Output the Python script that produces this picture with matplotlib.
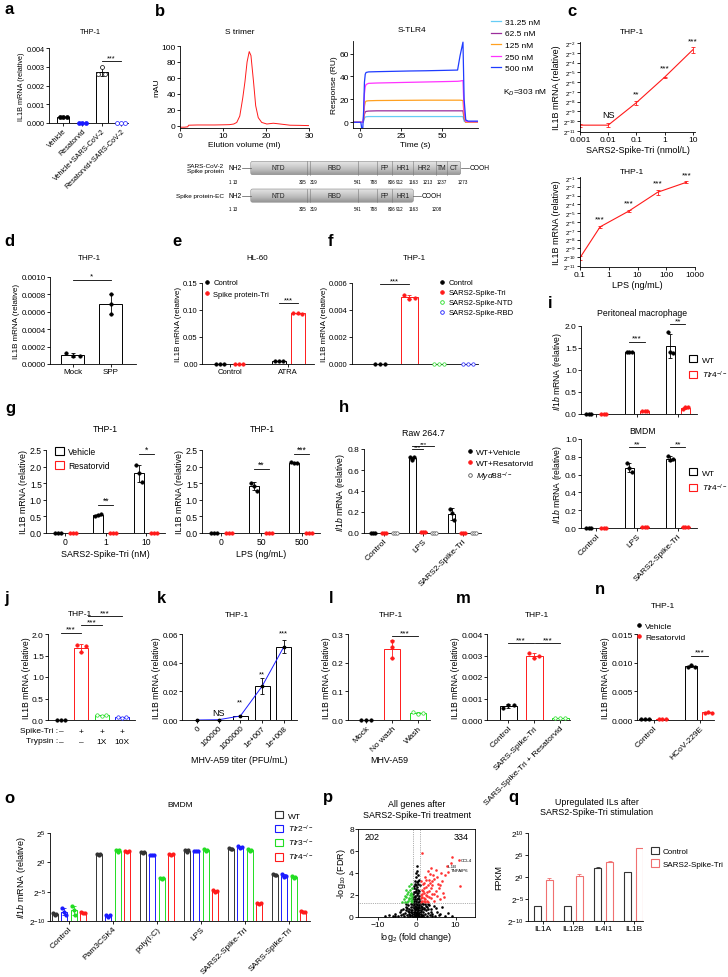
import numpy as np
import matplotlib
matplotlib.use("Agg")
import matplotlib.pyplot as plt
from matplotlib.patches import Patch, FancyBboxPatch
from matplotlib.lines import Line2D
from matplotlib.ticker import FixedLocator, NullLocator

plt.rcParams['font.family'] = ['Liberation Sans', 'DejaVu Sans']
plt.rcParams['mathtext.fontset'] = 'custom'
plt.rcParams['mathtext.rm'] = 'Liberation Sans'
plt.rcParams['mathtext.it'] = 'Liberation Sans:italic'
plt.rcParams['mathtext.bf'] = 'Liberation Sans:bold'
plt.rcParams['font.size'] = 6
plt.rcParams['axes.linewidth'] = 0.6

# ---------------- data ----------------
# a
a_labels = ['Vehicle', 'Resatorvid', 'Vehicle+SARS-CoV-2', 'Resatorvid+SARS-CoV-2']
a_pts = [[0.00030, 0.00034, 0.00032], [0.00002, 0.00002, 0.00002],
         [0.00262, 0.00300, 0.00262], [0.00002, 0.00002, 0.00002]]
# b: size exclusion
b_vol = [0, 1, 1.8, 2, 4, 8, 10, 11.5, 12.5, 13.2, 13.9, 14.3, 14.6, 15.1, 15.6,
         16.1, 16.5, 17.1, 17.6, 18.2, 19.0, 20.2, 21.7, 23.3, 25.6, 28, 30]
b_mau = [-2, -2, -1.5, 0.5, 0.8, 0.8, 1, 1.2, 2, 4, 12, 25, 35, 55, 80,
         93, 88, 55, 25, 10, 4, 2, 3, 2, 0.5, 0.3, 0]
# b: SPR sensorgram
spr_t = [-4, 0.3, 0.8, 1.5, 2.0, 2.5, 3.0, 3.5, 5, 10, 20, 30, 40, 50, 59.5, 61, 62.8, 63.5, 64.5, 66, 72]
spr_conc = ['31.25 nM', '62.5 nM', '125 nM', '250 nM', '500 nM']
spr_31 = [0, 0, 0, 0, 1, 3.5, 4.5, 4.8, 5, 5, 5, 5, 5, 5, 5, 5, 5, 1, 0, 0, 0]
spr_62 = [0, 0, 0, 0, 2, 7, 9, 9.5, 9.8, 10, 10, 10, 10, 10, 10, 10, 10, 3, 0, 0, 0]
spr_125 = [0, 0, 0, 0, 3, 14, 17.5, 18.5, 18.8, 19, 19.1, 19.2, 19.3, 19.3, 19.3, 19.3, 19, 5, 0, 0, 0]
spr_250 = [0, 0, 0, 0, 5, 25, 31, 33, 34, 34.3, 34.6, 34.9, 35.2, 35.5, 35.8, 36, 36.5, 10, 1, 0.5, 0.5]
spr_500 = [0, 0, -5, -5, 10, 35, 42, 43.5, 44, 44.2, 44.5, 44.8, 45, 45.3, 45.6, 58, 70, 20, 2, 1, 1]
# b: domain schematic (schematic units along the drawing)
dom_edges = [250.7, 306.7, 310, 358.3, 377.3, 392.3, 413.3, 435.7, 446.7, 460.7]
dom_names = ['NTD', '', 'RBD', '', 'FP', 'HR1', 'HR2', 'TM', 'CT']
res_full = ['1', '13', '305', '319', '541', '788', '806', '912', '1163', '1213', '1237', '1273']
res_full_pos = [230, 235, 302.7, 313.3, 357.7, 373.3, 392, 400, 414, 428, 441.7, 462.7]
res_ec = ['1', '13', '305', '319', '541', '788', '806', '912', '1163', '1208']
res_ec_pos = [230, 235, 302.7, 313.3, 357.7, 373.3, 392, 400, 414, 436.7]
# c
c1_x = [0.001, 0.01, 0.1, 1, 10]
c1_exp = [-10.4, -10.4, -8.1, -5.5, -2.7]
c1_lo = [-10.55, -10.6, -8.35, -5.56, -3.0]
c1_hi = [-10.25, -10.2, -7.9, -5.45, -2.45]
c1_sig = ['', 'NS', '**', '***', '***']
c1_sig_y = [0, -9.3, -7.2, -4.55, -1.75]
c2_x = [0.1, 0.5, 5, 50, 500]
c2_exp = [-10.05, -6.55, -4.76, -2.63, -1.5]
c2_lo = [-10.25, -6.65, -4.9, -2.9, -1.62]
c2_hi = [-9.85, -6.45, -4.62, -2.4, -1.38]
c2_sig = ['', '***', '***', '***', '***']
c2_sig_y = [0, -5.6, -3.85, -1.6, -0.62]
# d
d_labels = ['Mock', 'SPP']
d_pts = [[0.00013, 0.00009, 0.00009], [0.00080, 0.00069, 0.00058]]
# e
e_labels = ['Control', 'ATRA']
e_ctrl = [[0, 0, 0], [0.005, 0.006, 0.005]]
e_spike = [[0, 0, 0], [0.094, 0.095, 0.093]]
# f
f_names = ['Control', 'SARS2-Spike-Tri', 'SARS2-Spike-NTD', 'SARS2-Spike-RBD']
f_pts = [[0, 0, 0], [0.0051, 0.0048, 0.0049], [0.00002, 0.00002, 0.00002], [0.00002, 0.00002, 0.00002]]
# g
g1_labels = ['0', '1', '10']
g1_veh = [[0, 0, 0], [0.50, 0.55, 0.56], [2.05, 1.80, 1.55]]
g1_res = [[0, 0, 0], [0, 0, 0], [0, 0, 0]]
g2_labels = ['0', '50', '500']
g2_veh = [[0, 0, 0], [1.52, 1.42, 1.28], [2.15, 2.12, 2.10]]
g2_res = [[0, 0, 0], [0, 0, 0], [0, 0, 0]]
# h
h_labels = ['Control', 'LPS', 'SARS2-Spike-Tri']
h_veh = [[0, 0, 0], [0.72, 0.70, 0.72], [0.23, 0.19, 0.12]]
h_res = [[0, 0, 0], [0.01, 0.01, 0.01], [0, 0, 0]]
h_myd = [[0, 0, 0], [0, 0, 0], [0, 0, 0]]
# i
i_labels = ['Control', 'LPS', 'SARS2-Spike-Tri']
i1_wt = [[0, 0, 0], [1.40, 1.42, 1.41], [1.87, 1.40, 1.38]]
i1_ko = [[0, 0, 0], [0.07, 0.07, 0.07], [0.11, 0.15, 0.16]]
i2_wt = [[0, 0, 0], [0.73, 0.67, 0.63], [0.81, 0.76, 0.77]]
i2_ko = [[0, 0, 0], [0.01, 0.01, 0.01], [0.01, 0.01, 0.01]]
# j
j_pts = [[0, 0, 0], [1.75, 1.58, 1.72], [0.12, 0.10, 0.11], [0.07, 0.05, 0.06]]
j_spike = ['\u2013', '+', '+', '+']
j_tryp = ['\u2013', '\u2013', '1X', '10X']
# k
k_labels = ['0', '100000', '1000000', '1e+007', '1e+008']
k_mean = [0, 0.0002, 0.0028, 0.0235, 0.051]
k_err = [0, 0.0001, 0.0003, 0.0055, 0.0045]
k_sig = ['', 'NS', '**', '**', '***']
k_sig_y = [0, 0.0054, 0.0125, 0.0322, 0.0605]
# l
l_labels = ['Mock', 'No wash', 'Wash']
l_pts = [[0.0, 0.0, 0.0], [0.275, 0.255, 0.215], [0.027, 0.022, 0.025]]
# m
m_labels = ['Control', 'SARS-Spike-Tri', 'SARS-Spike-Tri + Resatorvid']
m_pts = [[0.00055, 0.00070, 0.00071], [0.0031, 0.0029, 0.0030], [0.00008, 0.00008, 0.00008]]
# n
n_labels = ['Control', 'HCoV-229E']
n_veh = [[0.0002, 0.0002, 0.0002], [0.0092, 0.0096, 0.0093]]
n_res = [[0.0001, 0.0001, 0.0001], [0.0013, 0.0014, 0.0013]]
# o (log2 values)
o_labels = ['Control', 'Pam3CSK4', 'poly(I:C)', 'LPS', 'SARS2-Spike-Tri', 'SARS-Spike-Tri']
o_wt = [[-8.6, -9.0, -8.8], [1.5, 1.2, 1.5], [1.8, 1.6, 1.7], [2.1, 1.8, 2.1], [2.4, 2.2, 2.3], [-2.0, -2.2, -2.1]]
o_tlr2 = [[-7.8, -8.4, -9.0], [-9.0, -9.3, -9.0], [1.3, 1.2, 1.25], [2.0, 2.0, 2.0], [2.7, 2.5, 2.6], [-2.0, -2.5, -2.4]]
o_tlr3 = [[-7.4, -8.2, -9.0], [2.1, 1.8, 2.1], [-2.6, -2.8, -2.7], [2.2, 2.0, 2.1], [2.2, 2.0, 2.1], [-2.4, -2.6, -2.5]]
o_tlr4 = [[-8.5, -8.6, -8.7], [2.0, 1.8, 1.9], [1.5, 1.3, 1.4], [-4.8, -5.0, -4.9], [-6.9, -7.1, -7.0], [-8.3, -8.5, -8.4]]
# p volcano (log2 FC, -log10 FDR)
p_black = [(-8.2, 0.05), (-7.0, 0.15), (-6.1, 0.08), (-5.4, 0.3), (-4.8, 0.12), (-4.3, 0.45), (-3.9, 0.2),
           (-3.5, 0.7), (-3.2, 0.05), (-3.0, 0.35), (-2.7, 0.9), (-2.5, 0.15), (-2.3, 0.55), (-2.1, 1.1),
           (-1.9, 0.3), (-1.8, 0.75), (-1.6, 0.05), (-1.5, 1.2), (-1.4, 0.45), (-1.3, 0.9), (-1.2, 0.2),
           (-1.1, 0.65), (-1.0, 1.05), (-0.9, 0.35), (-0.9, 1.6), (-0.8, 0.1), (-0.8, 2.1), (-0.7, 0.8),
           (-0.7, 1.3), (-0.6, 0.5), (-0.6, 2.6), (-0.5, 0.2), (-0.5, 1.8), (-0.4, 1.0), (-0.4, 3.0),
           (-0.3, 0.6), (-0.3, 2.3), (-0.2, 0.05), (-0.2, 1.5), (-0.1, 0.35), (-0.1, 3.6), (0.0, 0.8),
           (0.0, 2.0), (0.1, 0.15), (0.1, 1.2), (0.1, 4.2), (0.2, 0.5), (0.2, 2.7), (0.3, 0.95), (0.3, 1.7),
           (0.4, 0.25), (0.4, 3.3), (0.5, 0.65), (0.5, 2.2), (0.6, 1.35), (0.6, 0.05), (0.7, 0.4), (0.7, 1.9),
           (0.8, 0.85), (0.8, 2.9), (0.9, 0.2), (0.9, 1.5), (1.0, 0.6), (1.1, 1.0), (1.2, 0.3), (1.3, 0.75),
           (1.5, 0.1), (1.6, 1.15), (1.7, 0.5), (1.9, 0.85), (2.1, 0.25), (2.3, 1.2), (2.4, 0.6), (2.6, 0.05),
           (2.8, 0.95), (3.0, 0.4), (3.3, 1.1), (3.5, 0.15), (3.8, 0.7), (4.1, 0.3), (4.4, 1.0), (4.8, 0.1),
           (5.2, 0.5), (5.8, 0.2), (6.5, 0.9), (7.2, 0.1), (8.0, 0.4), (9.0, 0.05), (-2.2, 0.0), (-1.0, 0.0),
           (0.3, 0.0), (1.2, 0.0), (2.0, 0.0), (-0.45, 0.45), (0.25, 0.3), (-0.15, 0.9), (0.55, 1.1),
           (-0.65, 1.45), (0.15, 1.6), (-0.25, 2.4), (0.45, 2.5), (-0.05, 2.9), (0.35, 3.8),
           (-1.7, 0.15), (-1.35, 0.6), (-0.95, 0.9), (-0.75, 0.25), (-0.55, 1.15), (-0.35, 0.1), (-0.2, 0.7),
           (0.05, 0.45), (0.2, 1.05), (0.35, 0.6), (0.5, 0.15), (0.65, 0.95), (0.85, 0.45), (1.05, 0.2),
           (1.25, 0.55), (1.45, 0.9), (1.75, 0.2), (2.0, 0.7), (-2.0, 0.5), (-2.5, 0.8), (-1.1, 0.4),
           (-0.5, 0.7), (0.0, 0.25), (0.45, 0.85), (0.95, 1.2), (-0.85, 1.8), (0.75, 1.6), (-0.35, 1.95),
           (0.25, 2.15), (-0.6, 2.3), (0.6, 2.4), (0.05, 3.2), (-0.3, 3.3), (0.5, 3.0), (-0.15, 4.0),
           (0.2, 4.6), (2.5, 1.0), (3.0, 0.75), (3.6, 0.45), (-3.5, 0.25), (-2.8, 0.6), (-4.0, 0.6),
           (5.0, 0.8), (4.0, 0.05), (6.0, 0.3), (-5.5, 0.05), (-1.25, 1.25), (-0.15, 1.25), (0.4, 1.4),
           (-0.45, 1.6), (1.4, 1.25), (2.9, 1.2), (-2.6, 1.2), (-0.75, 2.8), (0.7, 3.4), (-0.1, 2.55)]
p_red = [(1.2, 1.4), (1.5, 1.8), (1.8, 1.45), (2.0, 2.2), (2.3, 1.6), (2.5, 2.7), (2.7, 1.9), (3.0, 1.4),
         (3.2, 2.4), (3.4, 3.1), (3.6, 1.7), (3.9, 2.1), (4.1, 2.9), (4.4, 1.5), (4.6, 3.5), (4.9, 2.4),
         (5.2, 1.9), (5.5, 3.0), (5.8, 2.6), (6.2, 4.0), (6.5, 3.3), (6.9, 2.2), (7.3, 3.8), (7.8, 4.6),
         (8.2, 4.1), (8.8, 4.9), (9.2, 5.5), (10.8, 5.2), (11.1, 2.8), (1.3, 2.5), (1.6, 3.0), (2.1, 3.6),
         (2.9, 4.2), (1.1, 1.7), (1.4, 2.1), (2.6, 1.5), (3.8, 4.5), (5.0, 4.3), (1.3, 5.8), (6.0, 1.6),
         (7.0, 1.8), (2.2, 1.35), (1.7, 2.4), (4.3, 3.8), (3.1, 3.4), (1.15, 2.0), (1.45, 1.5), (1.9, 2.6),
         (2.4, 2.0), (2.8, 2.3), (3.3, 1.8), (3.7, 2.6), (4.5, 2.1), (2.0, 3.1), (2.5, 3.4), (3.5, 3.9),
         (1.2, 3.3), (1.8, 1.7), (2.9, 2.9), (4.0, 3.3), (5.3, 3.6), (6.1, 2.9)]
p_green = [(-1.1, 1.4), (-1.3, 1.7), (-1.5, 1.45), (-1.7, 2.0), (-1.9, 1.6), (-2.1, 2.3), (-2.3, 1.5),
           (-2.6, 1.8), (-2.9, 1.4), (-3.3, 1.6), (-1.2, 2.6), (-1.5, 2.2), (-1.8, 2.8), (-2.4, 2.1),
           (-3.8, 1.35), (-1.05, 1.9), (-1.4, 3.0), (-2.8, 2.5), (-1.2, 1.55), (-1.6, 2.5), (-2.0, 1.7),
           (-2.5, 1.4), (-1.35, 2.05), (-3.0, 1.9)]
p_genes = ['CCL4', 'IL1B', 'TNFAIP6']
p_gene_xy = [(11.3, 5.2), (8.0, 4.6), (8.9, 4.3)]
# q (log2 FPKM)
q_genes = ['IL1A', 'IL12B', 'IL4I1', 'IL1B']
q_ctrl = [-6.6, -6.6, 2.0, 1.1]
q_ctrl_err = [0, 0, 0.2, 0.1]
q_spk = [-0.7, 0.3, 3.5, 6.6]
q_spk_err = [0.4, 0.35, 0.1, 0.05]

# ---------------- helpers ----------------
W, H = 728, 978
fig = plt.figure(figsize=(W / 100, H / 100), dpi=100)
RED = '#ff1a1a'; BLUE = '#1a1aff'; GREEN = '#22dd22'


def box(x0, y0, x1, y1):
    return fig.add_axes([x0 / W, 1 - y1 / H, (x1 - x0) / W, (y1 - y0) / H])


def ftxt(x, y, s, **kw):
    kw.setdefault('ha', 'center'); kw.setdefault('va', 'center')
    fig.text(x / W, 1 - y / H, s, **kw)


def letter(x, y, s):
    ftxt(x, y, s, fontsize=12, fontweight='bold')


def style(ax, fs=6):
    for s in ['top', 'right']:
        ax.spines[s].set_visible(False)
    ax.tick_params(length=2, width=0.6, labelsize=fs, pad=1)


def dots_bar(ax, x, pts, color, width, filled=True, col=False, ms=6):
    pts = np.asarray(pts, float)
    m = pts.mean(); sd = pts.std(ddof=1)
    ax.bar(x, m, width, facecolor='white', edgecolor=color, linewidth=0.7, zorder=1)
    ax.errorbar(x, m, yerr=sd, fmt='none', ecolor=color, elinewidth=0.6, capsize=1.5,
                capthick=0.6, zorder=2)
    offs = np.zeros(3) if col else np.array([-0.3, 0, 0.3]) * width
    ax.scatter(x + offs, pts, s=ms, facecolor=color if filled else 'white', edgecolor=color,
               linewidth=0.5, zorder=3, clip_on=False)


def sig(ax, x1, x2, y, s, fs=6):
    ax.plot([x1, x2], [y, y], color='black', lw=0.6, clip_on=False)
    ax.text((x1 + x2) / 2, y, s, ha='center', va='bottom', fontsize=fs, clip_on=False)


def legend_at(ax, handles, labels, x, y, fs=6, **kw):
    kw.setdefault('handletextpad', 0.5)
    ax.legend(handles, labels, loc='upper left', bbox_to_anchor=(x / W, 1 - y / H),
              bbox_transform=fig.transFigure, frameon=False, fontsize=fs, borderpad=0,
              borderaxespad=0, **kw)


def sq(c):
    return Patch(facecolor='white', edgecolor=c, linewidth=0.8)


def dot(c, filled=True):
    return Line2D([0], [0], marker='o', ls='none', markersize=2.6, markerfacecolor=c if filled else 'white',
                  markeredgecolor=c, markeredgewidth=0.6)


def rot_labels(ax, labels, fs):
    ax.set_xticklabels(labels, rotation=45, ha='right', rotation_mode='anchor', fontsize=fs)


def log2_axis(ax, lo, hi, fs):
    ax.set_yscale('log', base=2)
    ax.yaxis.set_major_locator(FixedLocator([2.0 ** k for k in range(lo, hi + 1)]))
    ax.yaxis.set_minor_locator(NullLocator())
    ax.set_yticklabels(['2$^{%d}$' % k for k in range(lo, hi + 1)], fontsize=fs)


# ---------------- a ----------------
letter(9, 10, 'a')
ftxt(90, 33, 'THP-1', fontsize=5.2)
ax = box(49, 49, 128, 124); style(ax, 5.2)
a_cols = ['black', BLUE, 'black', BLUE]
a_fill = [True, True, False, False]
for i in range(4):
    dots_bar(ax, i, a_pts[i], a_cols[i], 0.62, a_fill[i], ms=8)
ax.set_xlim(-0.73, 3.36); ax.set_ylim(0, 0.004)
ax.set_yticks([0, 0.001, 0.002, 0.003, 0.004])
ax.set_xticks(range(4)); rot_labels(ax, a_labels, 5.2)
ax.set_ylabel('IL1B mRNA (relative)', fontsize=5.2, labelpad=1)
sig(ax, 2, 3, 0.0033, '***', 5.2)

# ---------------- b ----------------
letter(160, 11, 'b')
ftxt(240, 33, 'S trimer', fontsize=6)
ax = box(180, 47, 309, 129); style(ax, 6)
ax.plot(b_vol, b_mau, color=RED, lw=0.7)
ax.set_xlim(0, 30); ax.set_ylim(-3, 100)
ax.set_xticks([0, 10, 20, 30]); ax.set_yticks([0, 20, 40, 60, 80, 100])
ax.set_xlabel('Elution volume (ml)', fontsize=6, labelpad=1)
ax.set_ylabel('mAU', fontsize=6, labelpad=1)

ftxt(412, 31, 'S-TLR4', fontsize=6)
ax = box(353, 42, 478, 129); style(ax, 6)
spr_cols = ['#66ccf5', '#9b2d9b', '#ffa020', '#ff33ff', '#1f3cff']
for ys, c, lab in zip([spr_31, spr_62, spr_125, spr_250, spr_500], spr_cols, spr_conc):
    ax.plot(spr_t, ys, color=c, lw=0.9, label=lab)
ax.set_xlim(-4.5, 72); ax.set_ylim(-5, 71)
ax.set_xticks([0, 25, 50]); ax.set_yticks([0, 20, 40, 60])
ax.set_xlabel('Time (s)', fontsize=6, labelpad=1)
ax.set_ylabel('Response (RU)', fontsize=6, labelpad=1)
h_, l_ = ax.get_legend_handles_labels()
legend_at(ax, h_, l_, 491, 19, 6, handlelength=1.2, labelspacing=0.45)
ftxt(503, 93, 'K$_D$=303 nM', fontsize=6, ha='left')

# domain schematic
dg = box(150, 150, 520, 215)
dg.set_xlim(150, 520); dg.set_ylim(215, 150); dg.axis('off')
grad = np.linspace(0.18, 0.5, 40).reshape(-1, 1)
for (y0, y1, nseg, lab, res, rpos) in [(162.3, 175.7, 9, 'SARS-CoV-2\nSpike protein', res_full, res_full_pos),
                                       (190, 203.3, 6, 'Spike protein-EC', res_ec, res_ec_pos)]:
    x0, x1 = dom_edges[0], dom_edges[nseg]
    patch = FancyBboxPatch((x0, y0), x1 - x0, y1 - y0, boxstyle='round,pad=0,rounding_size=2',
                           facecolor='none', edgecolor='#888888', lw=0.4)
    dg.add_patch(patch)
    im = dg.imshow(grad, extent=(x0, x1, y1, y0), cmap='Greys', vmin=0, vmax=1, aspect='auto', zorder=0)
    im.set_clip_path(patch)
    for e in dom_edges[1:nseg]:
        dg.plot([e, e], [y0, y1], color='#777777', lw=0.4)
    for k in range(nseg):
        if dom_names[k]:
            dg.text((dom_edges[k] + dom_edges[k + 1]) / 2, (y0 + y1) / 2, dom_names[k], fontsize=4.8,
                    ha='center', va='center', color='#222222')
    ym = (y0 + y1) / 2
    dg.text(229, ym, 'NH2', fontsize=4.8, ha='left', va='center')
    dg.plot([242, x0], [ym, ym], color='#555555', lw=0.5)
    dg.plot([x1, x1 + 8], [ym, ym], color='#555555', lw=0.5)
    dg.text(x1 + 8.5, ym, 'COOH', fontsize=4.8, ha='left', va='center')
    dg.text(224, ym, lab, fontsize=4.6, ha='right', va='center', linespacing=1.2)
    for r, p in zip(res, rpos):
        dg.text(p, y1 + 6.5, r, fontsize=3.3, ha='center', va='center')

# ---------------- c ----------------
letter(572, 12, 'c')
ftxt(632, 32, 'THP-1', fontsize=6)
ax = box(580, 43, 695, 133); style(ax, 6)
y = 2.0 ** np.array(c1_exp)
ax.errorbar(c1_x, y, yerr=[y - 2.0 ** np.array(c1_lo), 2.0 ** np.array(c1_hi) - y], color=RED,
            lw=0.8, elinewidth=0.6, capsize=1.5, capthick=0.6)
ax.set_xscale('log')
ax.set_xlim(0.001, 12); ax.set_ylim(2 ** -11.1, 2 ** -1.9)
log2_axis(ax, -11, -2, 4.6)
ax.xaxis.set_minor_locator(NullLocator())
ax.set_xticks(c1_x); ax.set_xticklabels(['0.001', '0.01', '0.1', '1', '10'])
for xx, s, yy in zip(c1_x, c1_sig, c1_sig_y):
    if s:
        ax.text(xx, 2.0 ** yy, s, ha='center', va='center', fontsize=6 if s != 'NS' else 6.5)
ax.set_xlabel('SARS2-Spike-Tri (nmol/L)', fontsize=6.5, labelpad=1)
ax.set_ylabel('IL1B mRNA (relative)', fontsize=6.5, labelpad=1)

ftxt(632, 172, 'THP-1', fontsize=6)
ax = box(580, 178, 695, 268); style(ax, 6)
y = 2.0 ** np.array(c2_exp)
ax.errorbar(c2_x, y, yerr=[y - 2.0 ** np.array(c2_lo), 2.0 ** np.array(c2_hi) - y], color=RED,
            lw=0.8, elinewidth=0.6, capsize=1.5, capthick=0.6)
ax.set_xscale('log')
ax.set_xlim(0.1, 1000); ax.set_ylim(2 ** -11.1, 2 ** -0.9)
log2_axis(ax, -11, -1, 4.6)
ax.xaxis.set_minor_locator(NullLocator())
ax.set_xticks([0.1, 1, 10, 100, 1000]); ax.set_xticklabels(['0.1', '1', '10', '100', '1000'])
for xx, s, yy in zip(c2_x, c2_sig, c2_sig_y):
    if s:
        ax.text(xx, 2.0 ** yy, s, ha='center', va='center', fontsize=6)
ax.set_xlabel('LPS (ng/mL)', fontsize=6.5, labelpad=1)
ax.set_ylabel('IL1B mRNA (relative)', fontsize=6.5, labelpad=1)

# ---------------- d ----------------
letter(9, 242, 'd')
ftxt(89, 259, 'THP-1', fontsize=5.8)
ax = box(50, 278, 136, 365); style(ax, 5.8)
for i in range(2):
    dots_bar(ax, i, d_pts[i], 'black', 0.6, True, col=(i == 1))
ax.set_xlim(-0.6, 1.66); ax.set_ylim(0, 0.001)
ax.set_yticks([0, 0.0002, 0.0004, 0.0006, 0.0008, 0.0010])
ax.set_xticks([0, 1]); ax.set_xticklabels(d_labels)
ax.set_ylabel('IL1B mRNA (relative)', fontsize=5.8, labelpad=1)
sig(ax, 0, 1, 0.00097, '*', 5.8)

# ---------------- e ----------------
letter(177, 242, 'e')
ftxt(257, 259, 'HL-60', fontsize=5.8)
ax = box(202, 284, 314, 365); style(ax, 5.5)
for i in range(2):
    dots_bar(ax, i - 0.16, e_ctrl[i], 'black', 0.24)
    dots_bar(ax, i + 0.16, e_spike[i], RED, 0.24)
ax.set_xlim(-0.47, 1.44); ax.set_ylim(0, 0.15)
ax.set_yticks([0, 0.05, 0.10, 0.15])
ax.set_xticks([0, 1]); ax.set_xticklabels(e_labels)
ax.set_ylabel('IL1B mRNA (relative)', fontsize=5.8, labelpad=1)
sig(ax, 0.84, 1.16, 0.113, '***', 5.5)
legend_at(ax, [dot('black'), dot(RED)], ['Control', 'Spike protein-Tri'], 205, 280, 5.5,
          handlelength=0.6, labelspacing=0.5)

# ---------------- f ----------------
letter(330, 242, 'f')
ftxt(414, 259, 'THP-1', fontsize=5.8)
ax = box(352, 284, 478, 365); style(ax, 5.5)
f_cols = ['black', RED, GREEN, BLUE]
f_fill = [True, True, False, False]
for i in range(4):
    dots_bar(ax, i, f_pts[i], f_cols[i], 0.58, f_fill[i])
ax.set_xlim(-0.96, 3.34); ax.set_ylim(0, 0.006)
ax.set_yticks([0, 0.002, 0.004, 0.006]); ax.set_xticks([])
ax.set_ylabel('IL1B mRNA (relative)', fontsize=5.8, labelpad=1)
sig(ax, 0, 1, 0.0059, '***', 5.5)
legend_at(ax, [dot(c, fl) for c, fl in zip(f_cols, f_fill)], f_names, 440, 280, 5.5,
          handlelength=0.6, labelspacing=0.35)

# ---------------- g ----------------
letter(10, 408, 'g')
for (x0, x1, title, tx, veh, res, labs, xl, sigs) in [
        (46, 165, 'THP-1', 105, g1_veh, g1_res, g1_labels, 'SARS2-Spike-Tri (nM)',
         [(1, 0.85, '**'), (2, 2.38, '*')]),
        (202, 320, 'THP-1', 262, g2_veh, g2_res, g2_labels, 'LPS (ng/mL)',
         [(1, 1.93, '**'), (2, 2.38, '***')])]:
    ftxt(tx, 429, title, fontsize=6.2)
    ax = box(x0, 451, x1, 534); style(ax, 6.2)
    for i in range(3):
        dots_bar(ax, i - 0.185, veh[i], 'black', 0.25)
        dots_bar(ax, i + 0.185, res[i], RED, 0.25)
    ax.set_xlim(-0.48, 2.46); ax.set_ylim(0, 2.5)
    ax.set_yticks([0, 0.5, 1.0, 1.5, 2.0, 2.5])
    ax.set_xticks(range(3)); ax.set_xticklabels(labs)
    ax.set_xlabel(xl, fontsize=6.4, labelpad=2)
    ax.set_ylabel('IL1B mRNA (relative)', fontsize=6.4, labelpad=1)
    for gx, gy, s in sigs:
        sig(ax, gx - 0.185, gx + 0.185, gy, s, 6.2)
    if x0 == 46:
        legend_at(ax, [sq('black'), sq(RED)], ['Vehicle', 'Resatorvid'], 55, 448, 6.2,
                  handlelength=1.0, handleheight=1.0, labelspacing=0.6)

# ---------------- h ----------------
letter(344, 408, 'h')
ftxt(423, 434, 'Raw 264.7', fontsize=6.4)
ax = box(364, 450, 481, 534); style(ax, 6)
for i in range(3):
    dots_bar(ax, i - 0.28, h_veh[i], 'black', 0.18)
    dots_bar(ax, i, h_res[i], RED, 0.18)
    dots_bar(ax, i + 0.28, h_myd[i], '#555555', 0.18, filled=False)
ax.set_xlim(-0.5, 2.46); ax.set_ylim(0, 0.8)
ax.set_yticks([0, 0.2, 0.4, 0.6, 0.8])
ax.set_xticks(range(3)); rot_labels(ax, h_labels, 6)
ax.set_ylabel('$\\mathit{Il1b}$ mRNA (relative)', fontsize=6.2, labelpad=1)
sig(ax, 0.72, 1.0, 0.80, '***', 4.5)
sig(ax, 0.72, 1.28, 0.83, '***', 4.5)
legend_at(ax, [dot('black'), dot(RED), dot('#555555', False)],
          ['WT+Vehicle', 'WT+Resatorvid', '$\\mathit{Myd88}^{-/-}$'], 467, 449, 6,
          handlelength=0.6, labelspacing=0.35)

# ---------------- i ----------------
letter(550, 304, 'i')
for (y0, y1, title, ty, wt, ko, ymax, yt, sigs, labs) in [
        (327, 415, 'Peritoneal macrophage', 313, i1_wt, i1_ko, 2.0, [0, 0.5, 1.0, 1.5, 2.0],
         [(1, 1.64, '***'), (2, 2.04, '**')], False),
        (440, 529, 'BMDM', 432, i2_wt, i2_ko, 1.0, [0, 0.2, 0.4, 0.6, 0.8, 1.0],
         [(1, 0.91, '**'), (2, 0.91, '**')], True)]:
    ftxt(642, ty, title, fontsize=6.2)
    ax = box(581, y0, 697, y1); style(ax, 6)
    for i in range(3):
        dots_bar(ax, i - 0.185, wt[i], 'black', 0.22)
        dots_bar(ax, i + 0.185, ko[i], RED, 0.22)
    ax.set_xlim(-0.37, 2.47); ax.set_ylim(0, ymax)
    ax.set_yticks(yt)
    ax.set_xticks(range(3))
    if labs:
        rot_labels(ax, i_labels, 6)
    else:
        ax.set_xticklabels([])
    ax.set_ylabel('$\\mathit{Il1b}$ mRNA (relative)', fontsize=6.2, labelpad=1)
    for gx, gy, s in sigs:
        sig(ax, gx - 0.185, gx + 0.185, gy, s, 6)
    legend_at(ax, [sq('black'), sq(RED)], ['WT', '$\\mathit{Tlr4}^{-/-}$'], 689, y0 + 29, 6,
              handlelength=1.0, handleheight=1.0, labelspacing=0.6)

# ---------------- j ----------------
letter(7, 599, 'j')
ftxt(80, 615, 'THP-1', fontsize=6)
ax = box(48, 635, 135, 721); style(ax, 6)
j_cols = ['black', RED, GREEN, BLUE]
j_fill = [True, True, False, False]
for i in range(4):
    dots_bar(ax, i, j_pts[i], j_cols[i], 0.69, j_fill[i])
ax.set_xlim(-0.64, 3.64); ax.set_ylim(0, 2.0)
ax.set_yticks([0, 0.5, 1.0, 1.5, 2.0]); ax.set_xticks([])
ax.set_ylabel('IL1B mRNA (relative)', fontsize=6.2, labelpad=1)
sig(ax, 0, 1, 2.03, '***', 6)
sig(ax, 1, 2, 2.2, '***', 6)
sig(ax, 1.35, 3, 2.42, '***', 6)
for i in range(4):
    ax.text(i, -0.13, j_spike[i], transform=ax.get_xaxis_transform(), ha='center', va='center', fontsize=6)
    ax.text(i, -0.25, j_tryp[i], transform=ax.get_xaxis_transform(), ha='center', va='center', fontsize=6)
ftxt(58, 732, 'Spike-Tri :', fontsize=6, ha='right')
ftxt(58, 742, 'Trypsin :', fontsize=6, ha='right')

# ---------------- k ----------------
letter(161, 599, 'k')
ftxt(237, 616, 'THP-1', fontsize=6)
ax = box(182, 635, 297, 721); style(ax, 5.8)
xk = np.arange(5)
ax.bar(xk, k_mean, 0.69, facecolor='white', edgecolor='black', linewidth=0.7, zorder=1)
ax.errorbar(xk, k_mean, yerr=k_err, fmt='none', ecolor='black', elinewidth=0.6, capsize=1.5, capthick=0.6)
ax.plot(xk, k_mean, color=BLUE, lw=0.7, zorder=3)
ax.scatter(xk, k_mean, s=3, color='black', zorder=4, clip_on=False)
for xx, s, yy in zip(xk, k_sig, k_sig_y):
    if s:
        ax.text(xx, yy, s, ha='center', va='center', fontsize=6.4 if s == 'NS' else 5.5)
ax.set_xlim(-0.69, 4.61); ax.set_ylim(0, 0.06)
ax.set_yticks([0, 0.02, 0.04, 0.06])
ax.set_xticks(xk); rot_labels(ax, k_labels, 5.8)
ax.set_xlabel('MHV-A59 titer (PFU/mL)', fontsize=6.4, labelpad=3)
ax.set_ylabel('IL1B mRNA (relative)', fontsize=6.2, labelpad=1)

# ---------------- l ----------------
letter(331, 599, 'l')
ftxt(391, 616, 'THP-1', fontsize=6)
ax = box(348, 635, 430, 721); style(ax, 6)
l_cols = ['black', RED, GREEN]
for i in range(3):
    dots_bar(ax, i, l_pts[i], l_cols[i], 0.65, i < 2, col=(i == 1))
ax.set_xlim(-0.69, 2.46); ax.set_ylim(0, 0.3)
ax.set_yticks([0, 0.1, 0.2, 0.3])
ax.set_xticks(range(3)); rot_labels(ax, l_labels, 6)
ax.set_xlabel('MHV-A59', fontsize=6.4, labelpad=2)
ax.set_ylabel('IL1B mRNA (relative)', fontsize=6.2, labelpad=1)
sig(ax, 1, 2, 0.293, '***', 6)

# ---------------- m ----------------
letter(463, 599, 'm')
ftxt(537, 616, 'THP-1', fontsize=6)
ax = box(487, 635, 570, 721); style(ax, 6)
m_cols = ['black', RED, GREEN]
for i in range(3):
    dots_bar(ax, i, m_pts[i], m_cols[i], 0.66, i < 2)
ax.set_xlim(-0.83, 2.38); ax.set_ylim(0, 0.004)
ax.set_yticks([0, 0.001, 0.002, 0.003, 0.004])
ax.set_xticks(range(3)); rot_labels(ax, m_labels, 6)
ax.set_ylabel('IL1B mRNA (relative)', fontsize=6.2, labelpad=1)
sig(ax, 0, 0.97, 0.00358, '***', 6)
sig(ax, 1.03, 2, 0.00358, '***', 6)

# ---------------- n ----------------
letter(600, 590, 'n')
ftxt(663, 607, 'THP-1', fontsize=6)
ax = box(637, 635, 714, 721); style(ax, 6)
for i in range(2):
    dots_bar(ax, i - 0.185, n_veh[i], 'black', 0.26)
    dots_bar(ax, i + 0.185, n_res[i], RED, 0.26)
ax.set_xlim(-0.36, 1.31); ax.set_ylim(0, 0.015)
ax.set_yticks([0, 0.005, 0.010, 0.015])
ax.set_xticks([0, 1]); rot_labels(ax, n_labels, 6)
ax.set_ylabel('IL1B mRNA (relative)', fontsize=6.2, labelpad=1)
sig(ax, 1 - 0.185, 1 + 0.185, 0.0112, '***', 6)
legend_at(ax, [dot('black'), dot(RED)], ['Vehicle', 'Resatorvid'], 636, 623, 6,
          handlelength=0.6, labelspacing=0.35)

# ---------------- o ----------------
letter(9, 799, 'o')
ftxt(180, 806, 'BMDM', fontsize=6)
ax = box(50, 834, 310, 922); style(ax, 6)
o_cols = ['#333333', BLUE, GREEN, RED]
o_off = [-0.324, -0.108, 0.108, 0.324]
for series, c, off in zip([o_wt, o_tlr2, o_tlr3, o_tlr4], o_cols, o_off):
    for g, pts in enumerate(series):
        e = np.array(pts); m = e.mean(); sd = e.std(ddof=1)
        ax.bar(g + off, 2.0 ** m - 2.0 ** -10, 0.14, bottom=2.0 ** -10, facecolor='white', edgecolor=c,
               linewidth=0.7, zorder=1)
        ax.errorbar(g + off, 2.0 ** m, yerr=[[2.0 ** m - 2.0 ** (m - sd)], [2.0 ** (m + sd) - 2.0 ** m]],
                    fmt='none', ecolor=c, elinewidth=0.6, capsize=1.2, capthick=0.6, zorder=2)
        ax.scatter(g + off + np.array([-0.04, 0, 0.04]), 2.0 ** e, s=4, color=c, zorder=3, clip_on=False)
ax.set_yscale('log', base=2)
ax.set_ylim(2 ** -10, 2 ** 5)
ax.yaxis.set_major_locator(FixedLocator([2.0 ** -10, 2.0 ** -5, 1, 2.0 ** 5]))
ax.yaxis.set_minor_locator(NullLocator())
ax.set_yticklabels(['2$^{-10}$', '2$^{-5}$', '2$^{0}$', '2$^{5}$'])
ax.set_xlim(-0.43, 5.48)
ax.set_xticks(range(6)); rot_labels(ax, o_labels, 6)
ax.set_ylabel('$\\mathit{Il1b}$ mRNA (relative)', fontsize=6.5, labelpad=1)
legend_at(ax, [sq(c) for c in o_cols],
          ['WT', '$\\mathit{Tlr2}^{-/-}$', '$\\mathit{Tlr3}^{-/-}$', '$\\mathit{Tlr4}^{-/-}$'],
          275, 812, 6, handlelength=1.0, handleheight=1.0, labelspacing=0.35)

# ---------------- p ----------------
letter(328, 798, 'p')
ftxt(417, 805, 'All genes after', fontsize=6.4)
ftxt(417, 815, 'SARS2-Spike-Tri treatment', fontsize=6.4)
ax = box(358, 830, 475, 918)
ax.tick_params(length=2, width=0.6, labelsize=6, pad=1)
for pts, c in [(p_black, 'black'), (p_green, '#33cc33'), (p_red, '#ff3333')]:
    arr = np.array(pts)
    ax.scatter(arr[:, 0], arr[:, 1], s=3.5, color=c, linewidths=0, zorder=2)
ax.axvline(-1, color='#666666', lw=0.5, ls=':')
ax.axvline(1, color='#666666', lw=0.5, ls=':')
ax.axhline(1.3, color='#666666', lw=0.5, ls=':')
for g, (gx, gy) in zip(p_genes, p_gene_xy):
    ax.text(gx, gy, g, fontsize=3.2, ha='left', va='center')
ax.text(-13.3, 7.3, '202', fontsize=6.5, ha='left', va='center')
ax.text(13.3, 7.3, '334', fontsize=6.5, ha='right', va='center')
ax.set_xlim(-15, 15); ax.set_ylim(0, 8)
ax.set_xticks([-10, 0, 10]); ax.set_yticks([0, 2, 4, 6, 8])
ax.set_xlabel('log$_2$ (fold change)', fontsize=6.5, labelpad=1)
ax.set_ylabel('-log$_{10}$ (FDR)', fontsize=6.5, labelpad=1)

# ---------------- q ----------------
letter(513, 798, 'q')
ftxt(597, 803, 'Upregulated ILs after', fontsize=6.4)
ftxt(597, 813, 'SARS2-Spike-Tri stimulation', fontsize=6.4)
ax = box(528, 834, 643, 922); style(ax, 6)
xq = np.arange(4)
for vals, errs, c, off in [(q_ctrl, q_ctrl_err, '#333333', -0.2), (q_spk, q_spk_err, '#f07070', 0.2)]:
    v = 2.0 ** np.array(vals)
    top = 2.0 ** (np.array(vals) + np.array(errs))
    ax.bar(xq + off, v - 2.0 ** -10, 0.23, bottom=2.0 ** -10, facecolor='white', edgecolor=c,
           linewidth=0.8, zorder=1)
    ax.errorbar(xq + off, v, yerr=[np.zeros(4), top - v], fmt='none', ecolor=c, elinewidth=0.6,
                capsize=1.5, capthick=0.6)
ax.set_yscale('log', base=2)
ax.set_ylim(2 ** -10, 2 ** 10)
ax.yaxis.set_major_locator(FixedLocator([2.0 ** k for k in (-10, -5, 0, 5, 10)]))
ax.yaxis.set_minor_locator(NullLocator())
ax.set_yticklabels(['2$^{-10}$', '2$^{-5}$', '2$^{0}$', '2$^{5}$', '2$^{10}$'])
ax.set_xlim(-0.5, 3.3)
ax.set_xticks(xq); ax.set_xticklabels(q_genes, fontsize=6)
ax.set_ylabel('FPKM', fontsize=6.5, labelpad=3)
legend_at(ax, [sq('#333333'), sq('#f07070')], ['Control', 'SARS2-Spike-Tri'], 651, 848, 5.8,
          handlelength=1.0, handleheight=1.0, labelspacing=0.5, handletextpad=0.4)

fig.savefig('out.png', dpi=100)
